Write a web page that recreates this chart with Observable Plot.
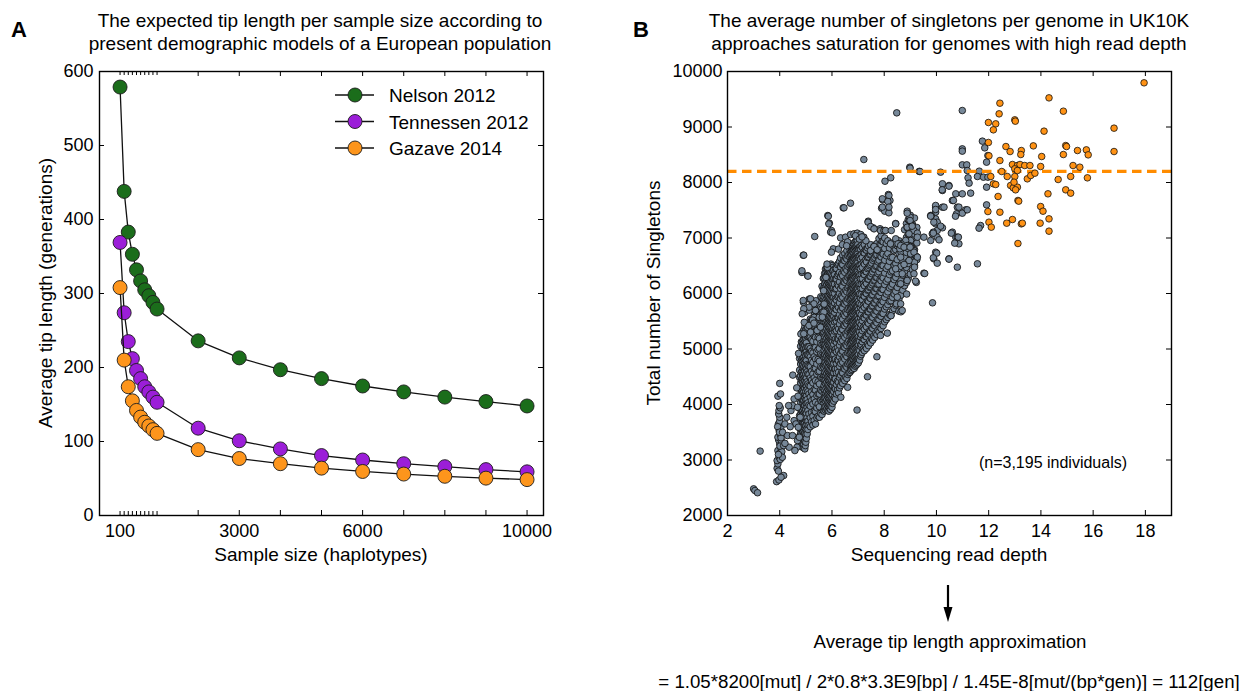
<!DOCTYPE html>
<html>
<head>
<meta charset="utf-8">
<script src="https://cdn.jsdelivr.net/npm/d3@7"></script>
<script src="https://cdn.jsdelivr.net/npm/@observablehq/plot@0.6"></script>
<style>
  body { margin: 0; background: #fff; }
  #fig { position: relative; width: 1243px; height: 691px; overflow: hidden;
         font-family: "Liberation Sans", Arial, Helvetica, sans-serif; color: #000; }
  .t { position: absolute; white-space: nowrap; transform: translate(-50%, -50%);
       font-size: 19px; line-height: 1; }
  .v { transform: translate(-50%, -50%) rotate(-90deg); }
  .letter { font-weight: bold; font-size: 22px; }
  .panel { position: absolute; top: 0; }
  .overlay { position: absolute; left: 0; top: 0; pointer-events: none; }
</style>
</head>
<body>
<div id="fig"></div>
<script>
const FONT = '"Liberation Sans", Arial, Helvetica, sans-serif';

// ---- Panel A: expected tip length (generations) by sample size (haplotypes)
const sampleSize    = [100, 200, 300, 400, 500, 600, 700, 800, 900, 1000, 2000, 3000, 4000, 5000, 6000, 7000, 8000, 9000, 10000];
const nelson2012    = [579, 438, 383, 353, 332, 317, 305, 297, 288, 279, 236, 213, 197, 185, 175, 167, 160, 154, 148];
const tennessen2012 = [369, 274, 235, 212, 196, 185, 174, 167, 160, 153, 118, 101, 90, 81, 75, 70, 66, 62, 59];
const gazave2014    = [308, 210, 174, 155, 142, 133, 126, 121, 116, 111, 89, 77, 70, 64, 59.5, 56, 53, 50.5, 48.5];
const modelNames  = ["Nelson 2012", "Tennessen 2012", "Gazave 2014"];
const modelColors = ["#1b6d1b", "#9b1ed8", "#fd951c"];
const sampleTickLabels = [100, 3000, 6000, 10000];
const sampleMinorTicks = [100, 200, 300, 400, 500, 600, 700, 800, 900, 1000];
const sampleMajorTicks = [2000, 3000, 4000, 5000, 6000, 7000, 8000, 9000, 10000];
const tipTicks = [0, 100, 200, 300, 400, 500, 600];

// ---- Panel B: singletons per genome vs sequencing read depth (UK10K)
const depthTicks = [2, 4, 6, 8, 10, 12, 14, 16, 18];
const singletonTicks = [2000, 3000, 4000, 5000, 6000, 7000, 8000, 9000, 10000];
const saturationLevel = 8200;

// bulk of the cloud, one narrow read-depth column per entry
const grayColumnDepth = [
  4.76, 4.80, 4.83, 4.86, 4.88, 4.90, 4.92, 4.94, 4.96, 4.98, 5.00, 5.02, 5.05, 5.08, 5.12, 5.17, 5.22,
  5.27, 5.32, 5.37, 5.42, 5.47, 5.52, 5.57, 5.62, 5.67,
  5.70, 5.72, 5.75, 5.77, 5.80, 5.82, 5.84, 5.86, 5.88, 5.90, 5.92, 5.94, 5.96, 5.98, 6.00, 6.02, 6.04, 6.07, 6.10, 6.13,
  6.17, 6.21, 6.25, 6.29, 6.33, 6.37, 6.41, 6.45, 6.49, 6.53, 6.57, 6.61, 6.65,
  6.69, 6.71, 6.73, 6.75, 6.77, 6.79, 6.81, 6.83, 6.85, 6.87, 6.89, 6.91, 6.93, 6.95, 6.97, 6.99, 7.01, 7.03, 7.06, 7.09, 7.12,
  7.16, 7.20, 7.24, 7.28, 7.32, 7.36, 7.40, 7.44, 7.48, 7.52, 7.56, 7.60, 7.64, 7.68, 7.72, 7.76, 7.80, 7.84, 7.88, 7.92, 7.96,
  8.02, 8.08, 8.14, 8.20, 8.26, 8.32, 8.38, 8.44, 8.50, 8.57, 8.64, 8.71, 8.78, 8.85, 8.92, 9.00, 9.08, 9.16, 9.25
];
const grayColumnSingletons = [
  [3430, 3580, 3800, 3930, 4150, 4290, 4490, 4620, 4830],
  [3490, 3700, 3820, 4040, 4160, 4390, 4520, 4730, 4870, 5050],
  [3370, 3540, 3760, 3890, 4100, 4220, 4440, 4580, 4790, 4920, 5130],
  [3290, 3480, 3620, 3810, 3940, 4130, 4250, 4470, 4600, 4770, 4980, 5120, 5290],
  [3330, 3560, 3690, 3880, 4060, 4200, 4410, 4530, 4710, 4860, 5070],
  [3220, 3400, 3510, 3720, 3830, 4020, 4140, 4330, 4460, 4650, 4780, 4970, 5100, 5260],
  [3280, 3430, 3620, 3750, 3940, 4070, 4240, 4360, 4550, 4680, 4870, 5010, 5190, 5340],
  [3350, 3530, 3660, 3850, 3980, 4160, 4300, 4480, 4610, 4800, 4930, 5110, 5230],
  [3200, 3340, 3480, 3680, 3800, 3990, 4120, 4290, 4420, 4600, 4740, 4920, 5060, 5280, 5400],
  [3260, 3410, 3570, 3730, 3870, 4050, 4180, 4360, 4500, 4670, 4820, 5000, 5140, 5330],
  [3320, 3460, 3620, 3780, 3910, 4090, 4240, 4390, 4550, 4710, 4880, 5020, 5200, 5350, 5460],
  [3390, 3550, 3700, 3840, 4010, 4150, 4330, 4470, 4640, 4790, 4950, 5110, 5270],
  [3470, 3640, 3760, 3950, 4090, 4270, 4410, 4590, 4720, 4900, 5040, 5230, 5360],
  [3550, 3700, 3890, 4030, 4230, 4370, 4550, 4700, 4890, 5030, 5230, 5390],
  [3630, 3830, 3990, 4190, 4340, 4540, 4690, 4880, 5040, 5240, 5410],
  [3600, 3760, 3970, 4130, 4330, 4480, 4680, 4860, 5010, 5210, 5370, 5540],
  [3690, 3860, 4070, 4230, 4440, 4600, 4800, 4960, 5170, 5320, 5520],
  [3630, 3790, 4010, 4180, 4390, 4550, 4760, 4930, 5140, 5310, 5510],
  [3710, 3880, 4100, 4270, 4480, 4650, 4860, 5030, 5240, 5410, 5610],
  [3650, 3870, 4040, 4260, 4430, 4650, 4820, 5030, 5210, 5420, 5590],
  [3760, 3940, 4160, 4340, 4550, 4730, 4950, 5130, 5340, 5520, 5730],
  [3790, 4010, 4190, 4410, 4590, 4810, 4990, 5210, 5390, 5610, 5770],
  [3770, 3960, 4190, 4370, 4600, 4780, 5010, 5190, 5420, 5600, 5810],
  [3840, 4070, 4260, 4490, 4680, 4910, 5100, 5330, 5520, 5750, 5940],
  [3820, 4050, 4240, 4470, 4660, 4890, 5080, 5310, 5500, 5730, 5920, 6130],
  [3890, 4070, 4290, 4470, 4690, 4870, 5090, 5270, 5490, 5670, 5890, 6070, 6270],
  [3880, 4020, 4200, 4340, 4520, 4660, 4840, 4980, 5160, 5300, 5480, 5620, 5800, 5940, 6120, 6280],
  [3950, 4110, 4250, 4430, 4570, 4750, 4890, 5070, 5210, 5390, 5530, 5710, 5850, 6030, 6170, 6360],
  [3900, 4060, 4200, 4380, 4520, 4700, 4840, 5020, 5160, 5340, 5480, 5660, 5800, 5980, 6120, 6310, 6440],
  [3970, 4130, 4290, 4450, 4610, 4770, 4930, 5090, 5250, 5410, 5570, 5730, 5890, 6050, 6210, 6380],
  [3920, 4080, 4230, 4400, 4550, 4720, 4870, 5040, 5190, 5360, 5510, 5680, 5830, 6000, 6150, 6320, 6470],
  [4000, 4160, 4310, 4480, 4630, 4800, 4950, 5120, 5270, 5440, 5590, 5760, 5910, 6080, 6230, 6400],
  [3890, 4040, 4190, 4360, 4510, 4680, 4830, 5000, 5150, 5320, 5470, 5640, 5790, 5960, 6110, 6280, 6430, 6520],
  [3960, 4120, 4270, 4440, 4590, 4760, 4910, 5080, 5230, 5400, 5550, 5720, 5870, 6040, 6190, 6360],
  [3880, 4030, 4200, 4350, 4520, 4670, 4840, 4990, 5160, 5310, 5480, 5630, 5800, 5950, 6120, 6270, 6440],
  [3940, 4100, 4250, 4420, 4570, 4740, 4890, 5060, 5210, 5380, 5530, 5700, 5850, 6020, 6170, 6340, 6500],
  [4010, 4170, 4320, 4490, 4640, 4810, 4960, 5130, 5280, 5450, 5600, 5770, 5920, 6090, 6240, 6410],
  [3910, 4060, 4220, 4380, 4540, 4700, 4860, 5020, 5180, 5340, 5500, 5660, 5820, 5980, 6140, 6300, 6460],
  [3970, 4140, 4290, 4460, 4610, 4780, 4930, 5100, 5250, 5420, 5570, 5740, 5890, 6060, 6210, 6380, 6530],
  [4040, 4200, 4360, 4520, 4680, 4840, 5000, 5160, 5320, 5480, 5640, 5800, 5960, 6120, 6280, 6440],
  [3950, 4110, 4270, 4430, 4590, 4750, 4910, 5070, 5230, 5390, 5550, 5710, 5870, 6030, 6190, 6350, 6500],
  [4020, 4180, 4340, 4500, 4660, 4820, 4980, 5140, 5300, 5460, 5620, 5780, 5940, 6100, 6260, 6420],
  [4090, 4250, 4400, 4570, 4720, 4890, 5040, 5210, 5360, 5530, 5680, 5850, 6000, 6170, 6320, 6470],
  [4060, 4230, 4400, 4570, 4740, 4910, 5080, 5250, 5420, 5590, 5760, 5930, 6100, 6270, 6430],
  [4130, 4300, 4470, 4640, 4810, 4980, 5150, 5320, 5490, 5660, 5830, 6000, 6170, 6340],
  [4100, 4280, 4460, 4640, 4820, 5000, 5180, 5360, 5540, 5720, 5900, 6080, 6260, 6450],
  [4190, 4360, 4570, 4740, 4950, 5120, 5330, 5500, 5710, 5880, 6090, 6260, 6450],
  [4260, 4420, 4640, 4800, 5020, 5180, 5400, 5560, 5780, 5940, 6160, 6320, 6520],
  [4210, 4400, 4580, 4790, 4970, 5180, 5360, 5570, 5750, 5960, 6140, 6350, 6540],
  [4300, 4490, 4690, 4860, 5070, 5240, 5450, 5620, 5830, 6000, 6210, 6380, 6580],
  [4340, 4530, 4740, 4920, 5130, 5310, 5520, 5700, 5910, 6090, 6300, 6480, 6640],
  [4400, 4580, 4790, 4970, 5180, 5360, 5570, 5750, 5960, 6140, 6350, 6530],
  [4380, 4570, 4760, 4960, 5150, 5350, 5540, 5740, 5930, 6130, 6320, 6520, 6690],
  [4460, 4650, 4850, 5040, 5240, 5430, 5630, 5820, 6020, 6210, 6410, 6600],
  [4430, 4640, 4820, 5030, 5210, 5420, 5600, 5810, 5990, 6200, 6380, 6590, 6720],
  [4500, 4690, 4890, 5080, 5280, 5470, 5670, 5860, 6060, 6250, 6450, 6640],
  [4470, 4670, 4860, 5060, 5250, 5450, 5640, 5840, 6030, 6230, 6420, 6620, 6770],
  [4540, 4730, 4930, 5120, 5320, 5510, 5710, 5900, 6100, 6290, 6490, 6680],
  [4570, 4760, 4960, 5150, 5350, 5540, 5740, 5930, 6130, 6320, 6520, 6710],
  [4580, 4730, 4910, 5050, 5230, 5370, 5550, 5690, 5870, 6010, 6190, 6330, 6510, 6650, 6800],
  [4640, 4800, 4960, 5120, 5280, 5440, 5600, 5760, 5920, 6080, 6240, 6400, 6560, 6720],
  [4610, 4760, 4930, 5080, 5250, 5400, 5570, 5720, 5890, 6040, 6210, 6360, 6530, 6680, 6830],
  [4680, 4840, 5000, 5160, 5320, 5480, 5640, 5800, 5960, 6120, 6280, 6440, 6600, 6760],
  [4630, 4780, 4950, 5100, 5270, 5420, 5590, 5740, 5910, 6060, 6230, 6380, 6550, 6700, 6870],
  [4700, 4860, 5020, 5180, 5340, 5500, 5660, 5820, 5980, 6140, 6300, 6460, 6620, 6780],
  [4660, 4810, 4980, 5130, 5300, 5450, 5620, 5770, 5940, 6090, 6260, 6410, 6580, 6730, 6900],
  [4720, 4880, 5040, 5200, 5360, 5520, 5680, 5840, 6000, 6160, 6320, 6480, 6640, 6800],
  [4650, 4800, 4970, 5120, 5290, 5440, 5610, 5760, 5930, 6080, 6250, 6400, 6570, 6720, 6880],
  [4740, 4900, 5060, 5220, 5380, 5540, 5700, 5860, 6020, 6180, 6340, 6500, 6660, 6820],
  [4690, 4840, 5010, 5160, 5330, 5480, 5650, 5800, 5970, 6120, 6290, 6440, 6610, 6760, 6930],
  [4760, 4920, 5080, 5240, 5400, 5560, 5720, 5880, 6040, 6200, 6360, 6520, 6680, 6840],
  [4710, 4860, 5030, 5180, 5350, 5500, 5670, 5820, 5990, 6140, 6310, 6460, 6630, 6780, 6950],
  [4780, 4940, 5100, 5260, 5420, 5580, 5740, 5900, 6060, 6220, 6380, 6540, 6700, 6860],
  [4730, 4880, 5050, 5200, 5370, 5520, 5690, 5840, 6010, 6160, 6330, 6480, 6650, 6800, 6960],
  [4800, 4960, 5120, 5280, 5440, 5600, 5760, 5920, 6080, 6240, 6400, 6560, 6720, 6880],
  [4750, 4900, 5070, 5220, 5390, 5540, 5710, 5860, 6030, 6180, 6350, 6500, 6670, 6820],
  [4820, 4990, 5150, 5320, 5480, 5650, 5810, 5980, 6140, 6310, 6470, 6640, 6800],
  [4800, 4970, 5140, 5310, 5480, 5650, 5820, 5990, 6160, 6330, 6500, 6670, 6840],
  [4870, 5050, 5220, 5400, 5570, 5750, 5920, 6100, 6270, 6450, 6620, 6800],
  [4900, 5080, 5260, 5440, 5620, 5800, 5980, 6160, 6340, 6520, 6700, 6860],
  [4940, 5130, 5330, 5510, 5710, 5890, 6090, 6270, 6470, 6650, 6830],
  [5000, 5180, 5390, 5570, 5780, 5960, 6170, 6350, 6560, 6740],
  [4970, 5170, 5360, 5560, 5750, 5950, 6140, 6340, 6530, 6730, 6880],
  [5040, 5230, 5430, 5620, 5820, 6010, 6210, 6400, 6600, 6790],
  [5010, 5220, 5400, 5610, 5790, 6000, 6180, 6390, 6570, 6780],
  [5090, 5280, 5480, 5670, 5870, 6060, 6260, 6450, 6650, 6820],
  [5060, 5270, 5460, 5670, 5860, 6070, 6260, 6470, 6660, 6860],
  [5140, 5330, 5530, 5720, 5920, 6110, 6310, 6500, 6700],
  [5110, 5320, 5510, 5720, 5910, 6120, 6310, 6520, 6710, 6880],
  [5190, 5380, 5580, 5770, 5970, 6160, 6360, 6550, 6750],
  [5160, 5370, 5570, 5780, 5980, 6190, 6390, 6600, 6800],
  [5240, 5430, 5640, 5830, 6040, 6230, 6440, 6630, 6840],
  [5210, 5420, 5620, 5830, 6030, 6240, 6440, 6650, 6850],
  [5290, 5490, 5690, 5890, 6090, 6290, 6490, 6690, 6880],
  [5260, 5470, 5680, 5880, 6090, 6290, 6500, 6700, 6900],
  [5340, 5540, 5750, 5950, 6160, 6360, 6570, 6770],
  [5310, 5530, 5740, 5960, 6170, 6390, 6600, 6820, 6990],
  [5390, 5600, 5820, 6030, 6250, 6460, 6680, 6890],
  [5370, 5590, 5800, 6020, 6230, 6450, 6660, 6880, 7040],
  [5440, 5650, 5870, 6080, 6300, 6510, 6730, 6940],
  [5420, 5640, 5850, 6070, 6280, 6500, 6710, 6930],
  [5490, 5720, 5930, 6160, 6370, 6600, 6810, 7000],
  [5530, 5760, 5990, 6220, 6450, 6680, 6900],
  [5570, 5800, 6030, 6260, 6490, 6720, 6950],
  [5620, 5860, 6100, 6340, 6580, 6820],
  [5610, 5870, 6130, 6390, 6650, 6910],
  [5690, 5930, 6170, 6410, 6650, 6870],
  [5730, 5990, 6250, 6510, 6770],
  [5790, 6040, 6290, 6540, 6790],
  [5860, 6110, 6360, 6610, 6860],
  [5910, 6180, 6450, 6720, 6950],
  [5970, 6230, 6490, 6750],
  [6060, 6330, 6600, 6870],
  [6140, 6400, 6660, 6920, 7150],
  [6200, 6470, 6740, 7010, 7260],
  [6270, 6540, 6810, 7070, 7330],
  [6350, 6610, 6870, 7130, 7410],
  [6430, 6710, 6990, 7250],
  [6510, 6790, 7070, 7360],
  [6610, 6910, 7190]
];

// individually placed genomes around the edges of the cloud: [read depth, singletons]
const grayScattered = [
  [3.0, 2480], [3.05, 2450], [3.15, 2410], [3.25, 3160],
  [3.88, 2610], [3.97, 2640], [4.15, 2720], [4.05, 2690], [3.9, 2850], [3.95, 2800], [3.93, 2930], [3.9, 2990],
  [3.98, 3050], [4.02, 3010], [3.93, 3170], [4.0, 3120], [4.03, 3230], [4.0, 3290], [3.96, 3360], [3.93, 3410],
  [4.02, 3460], [3.98, 3530], [4.04, 3580], [3.95, 3650], [4.0, 3700], [4.0, 3770], [3.96, 3830], [3.97, 3890],
  [4.02, 3940], [3.98, 3980], [3.93, 4150], [4.03, 4190], [4.0, 4380], [3.92, 3600], [4.06, 3350], [4.08, 3150],
  [4.1, 3050], [3.95, 3100], [4.05, 3400], [3.99, 3500], [4.01, 3250],
  [4.11, 3500], [4.2, 3650], [4.15, 3260], [4.3, 3440], [4.36, 3230], [4.27, 3770], [4.43, 3890], [4.49, 3980],
  [4.34, 3980], [4.55, 3710], [4.62, 3650], [4.49, 3440], [4.68, 3350], [4.66, 3230], [4.58, 3170], [4.75, 3410],
  [4.71, 3590], [4.78, 3770], [4.68, 3950], [4.55, 4100], [4.5, 4530], [4.72, 4920], [4.2, 3300], [4.4, 3600],
  [4.65, 4300], [4.7, 4150],
  [4.85, 6380], [4.9, 6690], [5.07, 6320], [4.91, 5840], [4.96, 5660], [5.13, 5900], [5.26, 5810], [5.38, 5870],
  [5.13, 5700], [5.38, 5690], [5.32, 5570], [4.94, 5480], [5.07, 5390], [4.81, 5270], [5.26, 5520], [5.51, 5570],
  [5.64, 5660], [5.7, 5810], [5.68, 6050], [5.77, 6290], [5.83, 6470], [5.81, 6530], [4.9, 5874], [5.18, 5904],
  [5.31, 5814], [5.12, 5754], [4.92, 5724], [4.86, 5634], [5.37, 5694], [5.12, 5424], [5.31, 5466], [4.92, 5274],
  [5.18, 5304], [5.43, 5334], [5.56, 5394], [5.69, 5664], [5.63, 5574],
  [4.92, 6691], [4.85, 6409], [5.08, 6313], [5.34, 7027], [5.84, 7405], [5.9, 7267], [5.98, 7135], [5.95, 7105],
  [6.71, 7627], [6.43, 7544], [7.22, 8414], [7.39, 7303], [8.03, 8023], [8.25, 8085], [8.16, 7784], [7.94, 7688],
  [8.22, 7676], [7.9, 7537], [8.02, 7483], [8.18, 7454], [8.98, 8276], [9.34, 8200], [10.16, 8186], [8.44, 7261],
  [8.88, 7483], [8.96, 7315], [9.04, 7207], [8.88, 7184], [9.14, 7135], [7.58, 7184], [7.84, 7166], [9.52, 6366],
  [9.85, 5832], [8.48, 9255],
  [5.86, 7393], [5.88, 7255], [6.01, 7093], [6.05, 6805], [5.98, 6745], [6.46, 7544], [8.18, 7766],
  [7.93, 7706], [8.14, 7658], [7.93, 7556], [8.18, 7556], [8.44, 7255], [8.99, 7375], [9.08, 7225],
  [9.27, 7087], [9.27, 7015], [9.01, 6955], [8.82, 6955], [8.95, 6865], [8.65, 6895], [8.6, 6847], [8.44, 6907],
  [9.78, 7405], [9.97, 7556], [9.97, 7345], [9.97, 7255], [10.03, 7135], [9.84, 7075], [9.78, 6955], [9.52, 7015],
  [6.33, 7003], [6.52, 7015], [6.71, 7063], [6.84, 7075], [6.97, 7087], [7.1, 7063], [7.22, 7015], [7.38, 7285],
  [7.48, 7207], [7.61, 7165], [7.86, 7135], [7.99, 7135], [8.05, 7135], [8.27, 7135], [8.44, 6985], [8.56, 6895],
  [6.25, 6800], [6.4, 6880], [6.6, 6930], [6.9, 7040], [7.05, 6980], [7.3, 6950], [7.15, 7020], [6.56, 6860],
  [7.48, 6775], [7.61, 6847], [7.73, 6787], [8.24, 6895], [8.53, 6895], [8.6, 6805], [8.88, 6865], [9.04, 6847],
  [9.14, 6775], [9.01, 6715], [9.24, 6667], [9.16, 6565], [8.95, 6595], [8.76, 6523], [8.63, 6655], [8.44, 6445],
  [8.69, 6355], [8.88, 6235], [8.63, 6175], [8.5, 5934], [8.47, 5814], [8.56, 5682], [8.12, 5286], [7.86, 5244],
  [6.34, 4130], [6.6, 4310], [6.96, 3900], [7.36, 4500], [7.72, 4860], [8.26, 5600], [8.64, 5670], [8.86, 5990],
  [9.23, 6200], [9.55, 6360],
  [10.23, 7977], [10.48, 7946], [10.23, 7856], [10.74, 7796], [10.61, 7676], [10.8, 7555], [9.97, 7586],
  [10.23, 7555], [9.97, 7465], [9.8, 7405], [10.03, 7285], [10.23, 7184], [9.88, 7105], [10.03, 7014],
  [10.61, 7105], [10.74, 7014], [10.86, 6895], [9.97, 6744], [9.9, 6625], [10.03, 6546], [10.48, 6625],
  [10.8, 6474],
  [10.99, 9297], [10.99, 8606], [10.99, 8565], [8.99, 8258], [9.37, 8198], [10.99, 8318], [11.16, 8318],
  [11.18, 8216], [11.21, 8084], [11.25, 7988], [11.76, 8745], [11.85, 8624], [11.97, 8486], [11.92, 8366],
  [11.64, 8204], [11.57, 8108], [11.8, 8096], [11.97, 8096], [11.92, 7916], [10.22, 7868], [10.48, 7934],
  [10.99, 7796], [11.31, 7808], [10.65, 7676], [10.86, 7556], [11.12, 7507], [10.77, 7435], [10.73, 7393],
  [10.99, 7447], [9.78, 7393], [9.97, 7514], [10.29, 7556], [8.88, 7447], [8.99, 7315], [8.88, 7195],
  [9.07, 7213], [8.95, 7075], [9.9, 7285], [10.16, 7213], [9.88, 7087], [10.1, 6967], [10.57, 7087], [10.8, 7015],
  [10.7, 6907], [8.63, 6865], [8.76, 6835], [9.01, 6847], [9.14, 6745], [11.69, 7225], [11.63, 7177], [11.92, 7597],
  [11.18, 7508], [10.84, 7015], [11.57, 6535], [9.2, 6223], [9.14, 6355], [9.16, 6475], [9.27, 6655],
  [8.99, 6835], [8.69, 5694], [8.63, 5814], [10.01, 6727], [9.88, 6643], [10.48, 6619]
];

// high read-depth genomes (orange): [read depth, singletons]
const highDepthGenomes = [
  [17.95, 9796], [14.31, 9525], [14.86, 9285], [12.43, 9429], [12.4, 9237], [11.99, 9081], [12.27, 9057],
  [12.18, 8949], [13.0, 9129], [13.02, 9105], [14.12, 8925], [16.8, 8979], [16.8, 8558], [11.99, 8721],
  [12.66, 8648], [12.82, 8558], [13.25, 8576], [13.23, 8504], [13.71, 8660], [14.03, 8468], [14.86, 8504],
  [14.95, 8666], [14.98, 8648], [15.4, 8576], [15.74, 8588], [15.81, 8498], [12.01, 8480],
  [12.43, 8396], [12.91, 8324], [13.1, 8306], [13.2, 8324], [13.38, 8306], [13.58, 8306], [13.99, 8288],
  [12.5, 8198], [13.0, 8246], [13.1, 8216], [13.0, 8108], [12.71, 8108], [12.08, 8108], [12.18, 7976],
  [12.27, 7964], [12.84, 7946], [12.94, 7904], [13.1, 7916], [12.97, 8006], [13.03, 7868], [13.48, 8066],
  [13.61, 8126], [13.77, 8168], [14.66, 8054], [15.14, 8108], [15.23, 8306], [15.49, 8276], [15.78, 8084],
  [14.95, 7868], [15.14, 7808], [14.27, 7796], [12.36, 7748], [13.12, 7676], [13.15, 7664], [13.99, 7567],
  [14.08, 7483], [14.31, 7345], [13.97, 7267], [14.31, 7123], [12.43, 7465], [11.97, 7477], [12.01, 7285],
  [12.1, 7195], [12.69, 7267], [12.91, 7333], [13.25, 7255], [13.29, 7267], [13.12, 6901]
];

// ---------------------------------------------------------------------------
const FRAME = 444;               // inner plot size (px) of both panels
const fig = document.getElementById("fig");

// inward-pointing ticks on all four sides of a frame
const ticksX = (values, len) => [
  Plot.ruleX(values, {insetTop: FRAME - len, stroke: "#000", strokeWidth: 1}),
  Plot.ruleX(values, {insetBottom: FRAME - len, stroke: "#000", strokeWidth: 1})
];
const ticksY = (values, len) => [
  Plot.ruleY(values, {insetRight: FRAME - len, stroke: "#000", strokeWidth: 1}),
  Plot.ruleY(values, {insetLeft: FRAME - len, stroke: "#000", strokeWidth: 1})
];

const tipRows = [nelson2012, tennessen2012, gazave2014].map((vals, i) =>
  vals.map((v, j) => ({model: modelNames[i], size: sampleSize[j], tip: v})));

const plotA = Plot.plot({
  width: 600, height: 580,
  marginLeft: 99, marginRight: 57, marginTop: 71, marginBottom: 65,
  style: {fontFamily: FONT, fontSize: "18px", background: "transparent", overflow: "visible"},
  x: {domain: [-400, 10400]},
  y: {domain: [0, 600]},
  color: {domain: modelNames, range: modelColors},
  marks: [
    ...ticksX(sampleMinorTicks, 4),
    ...ticksX(sampleMajorTicks, 5),
    ...ticksY(tipTicks, 5),
    Plot.axisX({ticks: sampleTickLabels, tickSize: 0, tickPadding: 9, tickFormat: "d", fontSize: 18, label: null}),
    Plot.axisY({ticks: tipTicks, tickSize: 0, tickPadding: 6, tickFormat: "d", fontSize: 18, label: null}),
    ...tipRows.flatMap(rows => [
      Plot.line(rows, {x: "size", y: "tip", stroke: "#111", strokeWidth: 1.3}),
      Plot.dot(rows, {x: "size", y: "tip", r: 7, fill: "model", stroke: "#1c1c1c", strokeWidth: 0.9})
    ]),
    Plot.frame({stroke: "#000", strokeWidth: 1.4})
  ]
});
plotA.classList.add("panel");
plotA.style.left = "0px";
fig.appendChild(plotA);

const grayRows = grayColumnDepth.flatMap((d, i) =>
  grayColumnSingletons[i].map(s => ({depth: d, singletons: s})))
  .concat(grayScattered.map(([d, s]) => ({depth: d, singletons: s})));
const orangeRows = highDepthGenomes.map(([d, s]) => ({depth: d, singletons: s}));

const plotB = Plot.plot({
  width: 643, height: 580,
  marginLeft: 127, marginRight: 72, marginTop: 71, marginBottom: 65,
  style: {fontFamily: FONT, fontSize: "18px", background: "transparent", overflow: "visible"},
  x: {domain: [2, 19]},
  y: {domain: [2000, 10000]},
  marks: [
    ...ticksX(depthTicks, 5),
    ...ticksY(singletonTicks, 5),
    Plot.axisX({ticks: depthTicks, tickSize: 0, tickPadding: 9, tickFormat: "d", fontSize: 18, label: null}),
    Plot.axisY({ticks: singletonTicks, tickSize: 0, tickPadding: 5, tickFormat: "d", fontSize: 18, label: null}),
    Plot.dot(grayRows, {x: "depth", y: "singletons", r: 3.3, fill: "#778899", stroke: "#111", strokeWidth: 0.85}),
    Plot.ruleY([saturationLevel], {stroke: "#ff8c00", strokeWidth: 3.2, strokeDasharray: "9.5,5.5"}),
    Plot.dot(orangeRows, {x: "depth", y: "singletons", r: 3.3, fill: "#ff9214", stroke: "#111", strokeWidth: 0.8}),
    Plot.frame({stroke: "#000", strokeWidth: 1.4})
  ]
});
plotB.classList.add("panel");
plotB.style.left = "600px";
fig.appendChild(plotB);

// ---- text around the panels
function label(text, x, y, cls = "", size = null) {
  const el = document.createElement("div");
  el.className = "t " + cls;
  el.textContent = text;
  el.style.left = x + "px";
  el.style.top = y + "px";
  if (size) el.style.fontSize = size + "px";
  fig.appendChild(el);
  return el;
}
label("A", 19, 30, "letter");
label("B", 641, 30, "letter");
label("The expected tip length per sample size according to", 320, 20);
label("present demographic models of a European population", 320, 43);
label("The average number of singletons per genome in UK10K", 949, 20);
label("approaches saturation for genomes with high read depth", 949, 43);
label("Average tip length (generations)", 45, 293, "v");
label("Sample size (haplotypes)", 321, 554);
label("Total number of Singletons", 653, 293, "v");
label("Sequencing read depth", 949, 554);
label("(n=3,195 individuals)", 1053, 463, "", 16);
label("Average tip length approximation", 950, 642, "", 18.7);
label("= 1.05*8200[mut] / 2*0.8*3.3E9[bp] / 1.45E-8[mut/(bp*gen)] = 112[gen]", 949, 682, "", 18.7);

// legend of panel A and the arrow under panel B
const ov = d3.select(fig).append("svg").attr("class", "overlay").attr("width", 1243).attr("height", 691);
modelNames.forEach((name, i) => {
  const y = 95 + i * 26.5;
  ov.append("line").attr("x1", 335).attr("x2", 374).attr("y1", y).attr("y2", y)
    .attr("stroke", "#111").attr("stroke-width", 1.3);
  ov.append("circle").attr("cx", 355).attr("cy", y).attr("r", 7)
    .attr("fill", modelColors[i]).attr("stroke", "#1c1c1c").attr("stroke-width", 0.9);
  label(name, 389, y).style.transform = "translate(0, -50%)";
});
ov.append("line").attr("x1", 948).attr("x2", 948).attr("y1", 585).attr("y2", 610)
  .attr("stroke", "#000").attr("stroke-width", 2.2);
ov.append("path").attr("d", "M943.5,607 L952.5,607 L948,622 Z").attr("fill", "#000");
</script>
</body>
</html>
